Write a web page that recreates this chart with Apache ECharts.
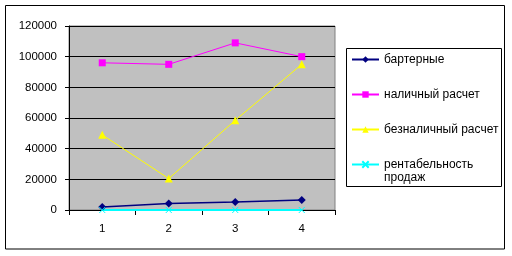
<!DOCTYPE html>
<html><head><meta charset="utf-8">
<script src="https://cdn.jsdelivr.net/npm/echarts@6/dist/echarts.min.js"></script>
<style>html,body{margin:0;padding:0;background:#fff}#c{width:512px;height:256px}</style>
</head><body><div id="c"></div>
<script>
var categories = ['1', '2', '3', '4'];
var barter = [2000, 4300, 5200, 6500];
var cash = [96000, 95000, 109000, 100000];
var noncash = [49000, 20500, 58500, 95000];
var profit = [0.2, 0.2, 0.2, 0.2];
var seriesNames = ['бартерные', 'наличный расчет', 'безналичный расчет', 'рентабельность продаж'];
var yTicks = [0, 20000, 40000, 60000, 80000, 100000, 120000];

var font = 'Liberation Sans, Arial, sans-serif';
var chart = echarts.init(document.getElementById('c'), null, {renderer: 'canvas'});
var crossPath = 'path://M0,0L10,10M10,0L0,10';
var lastWords = seriesNames[3].split(' ');
chart.setOption({
  animation: false,
  backgroundColor: '#fff',
  graphic: [{
    type: 'rect', shape: {x: 5.5, y: 5.5, width: 499, height: 243.5},
    style: {fill: 'none', stroke: '#000', lineWidth: 1}, z: 100, silent: true
  }, {
    type: 'rect', shape: {x: 346.5, y: 48.5, width: 155, height: 138},
    style: {fill: 'none', stroke: '#000', lineWidth: 1}, z: 100, silent: true
  }, {
    type: 'text', left: 384, top: 172,
    style: {text: lastWords.slice(1).join(' '), fill: '#000', font: '12px ' + font},
    z: 100, silent: true
  }],
  grid: {left: 69, top: 26, width: 266, height: 184, show: true, backgroundColor: '#c0c0c0', borderColor: '#808080', borderWidth: 1},
  legend: {
    orient: 'vertical', left: 347, top: 49, padding: [3, 0, 0, 4],
    itemGap: 20, itemWidth: 27, itemHeight: 8,
    textStyle: {fontFamily: font, fontSize: 12, color: '#000', lineHeight: 15},
    formatter: function (n) { return n === seriesNames[3] ? lastWords[0] : n; },
    data: seriesNames.map(function (n) { return {name: n}; })
  },
  xAxis: {
    type: 'category', data: categories, boundaryGap: true,
    axisLine: {lineStyle: {color: '#000', width: 1}},
    axisTick: {show: true, inside: false, length: 5, lineStyle: {color: '#000'}},
    axisLabel: {fontFamily: font, fontSize: 11.5, color: '#000', margin: 13},
    splitLine: {show: false}
  },
  yAxis: {
    type: 'value', min: yTicks[0], max: yTicks[yTicks.length - 1], interval: yTicks[1] - yTicks[0],
    axisLine: {show: true, lineStyle: {color: '#000', width: 1}},
    axisTick: {show: true, length: 4, lineStyle: {color: '#000'}},
    axisLabel: {fontFamily: font, fontSize: 11.5, color: '#000', margin: 12,
      formatter: function (v) { return String(v); }},
    splitLine: {show: true, lineStyle: {color: '#000', width: 1}}
  },
  series: [
    {name: seriesNames[0], type: 'line', data: barter, symbol: 'diamond', symbolSize: 8,
      lineStyle: {color: '#000080', width: 1.5}, itemStyle: {color: '#000080'}},
    {name: seriesNames[1], type: 'line', data: cash, symbol: 'rect', symbolSize: 7,
      lineStyle: {color: '#ff00ff', width: 1}, itemStyle: {color: '#ff00ff'}},
    {name: seriesNames[2], type: 'line', data: noncash, symbol: 'triangle', symbolSize: 8,
      lineStyle: {color: '#ffff00', width: 1}, itemStyle: {color: '#ffff00'}},
    {name: seriesNames[3], type: 'line', data: profit, symbol: crossPath, symbolSize: 6,
      lineStyle: {color: '#00ffff', width: 2}, itemStyle: {color: '#00ffff', borderColor: '#00ffff', borderWidth: 1}}
  ]
});
</script></body></html>
